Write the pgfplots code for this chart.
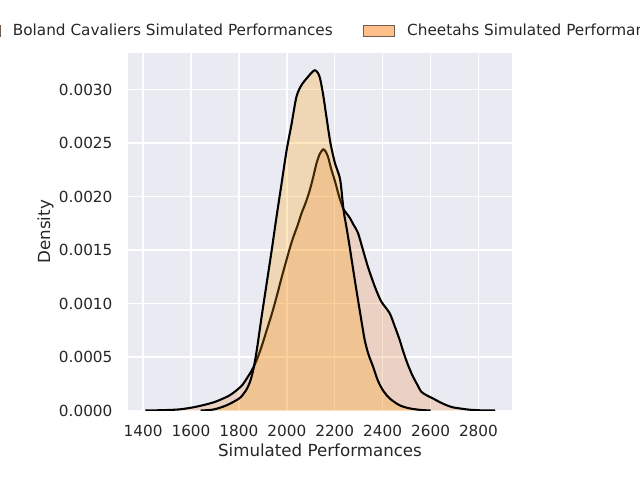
\documentclass[border=0pt]{standalone}
\usepackage{fontspec}
\setmainfont{DejaVu Sans}
\usepackage{pgfplots}
\usepackage{pgfplotstable}
\pgfplotsset{compat=1.18}
\definecolor{bg}{RGB}{234,234,242}
\definecolor{txt}{RGB}{38,38,38}
\definecolor{narrowc}{RGB}{255,160,0}
\definecolor{widec}{RGB}{238,138,62}
\definecolor{legfill}{RGB}{255,191,138}
\definecolor{legfillb}{RGB}{250,205,175}
\definecolor{legedge}{RGB}{110,95,85}

\pgfplotstableread{
x y
1410 0
1480 0.000003
1550 0.00001
1610 0.00003
1660 0.000055
1700 0.00008
1722 0.0001
1760 0.00014
1791 0.00019
1815 0.00024
1833 0.0003
1855 0.00038
1874 0.00047
1895 0.0006
1916 0.00075
1937 0.0009
1957 0.00106
1978 0.00124
1999 0.00141
2013 0.00152
2027 0.00162
2045 0.00173
2061 0.00184
2080 0.00195
2096 0.00206
2110 0.00218
2124 0.00231
2138 0.0024
2152 0.00244
2162 0.00242
2172 0.00237
2185 0.00226
2200 0.00215
2221 0.00198
2237 0.00188
2250 0.00184
2263 0.0018
2280 0.00173
2297 0.00166
2318 0.0015
2339 0.00134
2367 0.00116
2394 0.00102
2429 0.00091
2450 0.00079
2471 0.00066
2484 0.000565
2505 0.00043
2526 0.00032
2545 0.00024
2561 0.000176
2585 0.00014
2609 0.000114
2637 0.00008
2665 0.000051
2692 0.00003
2720 0.00002
2760 0.000008
2804 0.000002
2870 0
}\widedata

\pgfplotstableread{
x y
1640 0
1680 0.000005
1708 0.000017
1750 0.00005
1791 0.000098
1810 0.00013
1830 0.00019
1845 0.00026
1860 0.00038
1875 0.00057
1895 0.00088
1916 0.00119
1937 0.0015
1957 0.00181
1978 0.00212
1999 0.00243
2020 0.00268
2040 0.00293
2061 0.00304
2089 0.00312
2105 0.00316
2117 0.00318
2128 0.00316
2138 0.00311
2151 0.00296
2165 0.00275
2182 0.0025
2200 0.00232
2212 0.00224
2224 0.00214
2237 0.00187
2250 0.0017
2263 0.00152
2283 0.00123
2304 0.00094
2318 0.00075
2325 0.00066
2340 0.00053
2360 0.00041
2380 0.00028
2401 0.00019
2429 0.000114
2470 0.00005
2512 0.00002
2560 0.000005
2600 0
}\narrowdata

\begin{document}
\begin{tikzpicture}
\useasboundingbox (0,0) rectangle (460.8pt,345.6pt);
\clip (0,0) rectangle (460.8pt,345.6pt);
\begin{axis}[
  at={(92.16pt,50.04pt)}, anchor=south west,
  scale only axis, width=276.48pt, height=257.4pt,
  xmin=1337, xmax=2940, ymin=0, ymax=0.003341,
  axis background/.style={fill=bg},
  axis line style={draw=none},
  major tick length=0pt,
  grid=major, grid style={white, line width=1pt},
  xtick={1400,1600,1800,2000,2200,2400,2600,2800},
  ytick={0,0.0005,0.001,0.0015,0.002,0.0025,0.003},
  scaled y ticks=false,
  /pgf/number format/assume math mode=true,
  x tick label style={/pgf/number format/1000 sep={}, anchor=north, inner sep=0pt, yshift=-10pt},
  y tick label style={/pgf/number format/.cd, fixed, fixed zerofill, precision=4, /tikz/.cd, anchor=east, inner sep=0pt, xshift=-11pt},
  tick label style={font=\fontsize{11}{13}\selectfont, text=txt},
  xlabel={Simulated Performances},
  ylabel={Density},
  label style={font=\fontsize{12}{14}\selectfont, text=txt, inner sep=0pt},
  xlabel style={at={(axis description cs:0.5,-0.0932)}, anchor=north},
  ylabel style={at={(axis description cs:-0.1928,0.5)}, anchor=south, rotate=0},
  legend columns=2,
  legend style={at={(axis description cs:0.5,1.0618)}, anchor=center, draw=none, fill=none,
    font=\fontsize{11}{13}\selectfont, text=txt, inner sep=0pt,
    nodes={inner sep=0pt},
    /tikz/every even column/.append style={column sep=22pt},
    /tikz/every odd column/.append style={column sep=8.8pt}},
  legend cell align=left,
]
\addlegendimage{legend image code/.code={\draw[fill=legfillb, draw=legedge, line width=0.8pt] (0pt,-3.85pt) rectangle (22pt,3.85pt);}}
\addlegendentry{Boland Cavaliers Simulated Performances}
\addlegendimage{legend image code/.code={\draw[fill=legfill, draw=legedge, line width=0.8pt] (0pt,-3.85pt) rectangle (22pt,3.85pt);}}
\addlegendentry{Cheetahs Simulated Performances}

\addplot[draw=none, fill=widec, fill opacity=0.25, smooth, tension=0.5, forget plot] table[x=x,y=y] {\widedata} \closedcycle;
\addplot[black, line width=1.5pt, smooth, tension=0.5, forget plot] table[x=x,y=y] {\widedata};
\addplot[draw=none, fill=narrowc, fill opacity=0.25, smooth, tension=0.5, forget plot] table[x=x,y=y] {\narrowdata} \closedcycle;
\addplot[black, line width=1.5pt, smooth, tension=0.5, forget plot] table[x=x,y=y] {\narrowdata};
\end{axis}
\end{tikzpicture}
\end{document}
